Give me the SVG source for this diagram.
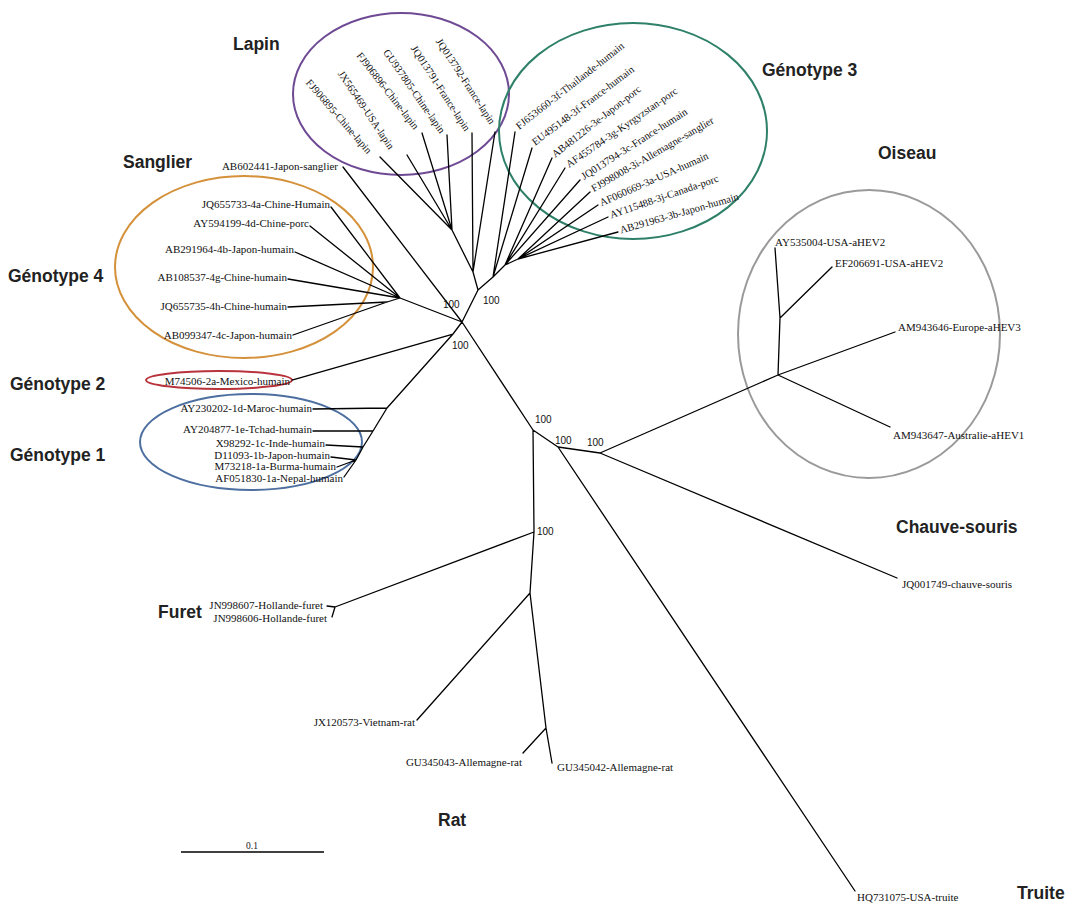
<svg xmlns="http://www.w3.org/2000/svg" width="1068" height="907" viewBox="0 0 1068 907">
<style>
.e{stroke:#000;stroke-width:1.3;fill:none;stroke-linecap:round;stroke-linejoin:round}
.l{font-family:"Liberation Serif","Times New Roman",serif;font-size:11px;fill:#111}
.r{font-family:"Liberation Serif","Times New Roman",serif;font-size:10.5px;fill:#111}
.n{text-anchor:end}
.b{font-family:"Liberation Sans",Arial,sans-serif;font-size:10px;fill:#111}
.g{font-family:"Liberation Sans",Arial,sans-serif;font-size:17.5px;font-weight:bold;fill:#222}
.c{fill:none;stroke-width:2}
</style>
<rect width="1068" height="907" fill="#fff"/>
<g id="clusters">
<ellipse id="ell-lapin" class="c" cx="401" cy="94" rx="108" ry="81" stroke="#6f4a94"/>
<ellipse id="ell-g3" class="c" cx="633" cy="131" rx="134" ry="108" stroke="#2e8068"/>
<ellipse id="ell-g4" class="c" cx="244" cy="267" rx="129" ry="91" stroke="#d4913a"/>
<ellipse id="ell-g2" class="c" cx="219" cy="380" rx="73" ry="9" stroke="#b8333b"/>
<ellipse id="ell-g1" class="c" cx="251" cy="442" rx="111" ry="48" stroke="#4d6fa0"/>
<ellipse id="ell-oiseau" class="c" cx="869" cy="334" rx="131" ry="144" stroke="#9a9a9a"/>
</g>
<g id="connectors">
<path class="e" d="M462,322L478,290 M462,322L343,167 M462,322L400,298 M462,322L453,334 M462,322L533,430
M478,290L473,272 M478,290L493,277
M473,272L452,230 M473,272L472,133 M473,272L495,132
M452,230L380,157 M452,230L407,155 M452,230L422,133 M452,230L447,135
M493,277L515,132 M493,277L532,148 M493,277L505,265
M505,265L552,158 M505,265L565,168 M505,265L580,180 M505,265L518,259
M518,259L590,192 M518,259L598,205 M518,259L608,217 M518,259L618,232
M400,298L331,207 M400,298L310,226 M400,298L295,252 M400,298L288,279 M400,298L387,302
M387,302L288,307 M387,302L293,335
M453,334L292,380 M453,334L387,408
M387,408L313,409 M387,408L373,431
M373,431L313,431 M373,431L363,447
M363,447L326,445 M363,447L356,460
M356,460L331,457 M356,460L337,467 M356,460L344,477
M533,430L558,447 M533,430L534,532
M558,447L600,453 M558,447L855,891
M600,453L897,578 M600,453L778,375
M778,375L780,318 M778,375L895,332 M778,375L890,427
M780,318L775,248 M780,318L832,267
M534,532L335,607 M534,532L530,593
M335,607L327,606 M335,607L332,617
M530,593L417,720 M530,593L546,728
M546,728L523,753 M546,728L552,763"/>
</g>
<g id="lapin-leaves">
<g id="FJ906895"><text class="r n" x="370" y="152" dy=".35em" transform="rotate(49 370 152)">FJ906895-Chine-lapin</text></g>
<g id="JX565469"><text class="r n" x="392" y="148" dy=".35em" transform="rotate(56 392 148)">JX565469-USA-lapin</text></g>
<g id="FJ906896"><text class="r n" x="417" y="128" dy=".35em" transform="rotate(52 417 128)">FJ906896-Chine-lapin</text></g>
<g id="GU937805"><text class="r n" x="443" y="132" dy=".35em" transform="rotate(55 443 132)">GU937805-Chine-lapin</text></g>
<g id="JQ013791"><text class="r n" x="468" y="130" dy=".35em" transform="rotate(57 468 130)">JQ013791-France-lapin</text></g>
<g id="JQ013792"><text class="r n" x="493" y="123" dy=".35em" transform="rotate(57 493 123)">JQ013792-France-lapin</text></g>
</g>
<g id="g3-leaves">
<g id="FJ653660"><text class="r" x="517" y="127" dy=".35em" transform="rotate(-38 517 127)">FJ653660-3f-Thailande-humain</text></g>
<g id="EU495148"><text class="r" x="533" y="143" dy=".35em" transform="rotate(-37 533 143)">EU495148-3f-France-humain</text></g>
<g id="AB481226"><text class="r" x="553" y="155" dy=".35em" transform="rotate(-38 553 155)">AB481226-3e-Japon-porc</text></g>
<g id="AF455784"><text class="r" x="567" y="165" dy=".35em" transform="rotate(-34.6 567 165)">AF455784-3g-Kyrgyzstan-porc</text></g>
<g id="JQ013794"><text class="r" x="582" y="177" dy=".35em" transform="rotate(-32.5 582 177)">JQ013794-3c-France-humain</text></g>
<g id="FJ998008"><text class="r" x="592" y="189" dy=".35em" transform="rotate(-30 592 189)">FJ998008-3i-Allemagne-sanglier</text></g>
<g id="AF060669"><text class="r" x="600" y="203" dy=".35em" transform="rotate(-24 600 203)">AF060669-3a-USA-humain</text></g>
<g id="AY115488"><text class="r" x="610" y="215" dy=".35em" transform="rotate(-19 610 215)">AY115488-3j-Canada-porc</text></g>
<g id="AB291963"><text class="r" x="620" y="230" dy=".35em" transform="rotate(-16 620 230)">AB291963-3b-Japon-humain</text></g>
</g>
<g id="left-leaves">
<g id="AB602441"><text class="l n" x="338" y="166" dy=".35em">AB602441-Japon-sanglier</text></g>
<g id="JQ655733"><text class="l n" x="330" y="204" dy=".35em">JQ655733-4a-Chine-Humain</text></g>
<g id="AY594199"><text class="l n" x="309" y="223" dy=".35em">AY594199-4d-Chine-porc</text></g>
<g id="AB291964"><text class="l n" x="294" y="249" dy=".35em">AB291964-4b-Japon-humain</text></g>
<g id="AB108537"><text class="l n" x="287" y="277" dy=".35em">AB108537-4g-Chine-humain</text></g>
<g id="JQ655735"><text class="l n" x="287" y="306" dy=".35em">JQ655735-4h-Chine-humain</text></g>
<g id="AB099347"><text class="l n" x="292" y="335" dy=".35em">AB099347-4c-Japon-humain</text></g>
<g id="M74506"><text class="l n" x="290" y="381" dy=".35em">M74506-2a-Mexico-humain</text></g>
<g id="AY230202"><text class="l n" x="312" y="408" dy=".35em">AY230202-1d-Maroc-humain</text></g>
<g id="AY204877"><text class="l n" x="312" y="429" dy=".35em">AY204877-1e-Tchad-humain</text></g>
<g id="X98292"><text class="l n" x="325" y="443" dy=".35em">X98292-1c-Inde-humain</text></g>
<g id="D11093"><text class="l n" x="330" y="455" dy=".35em">D11093-1b-Japon-humain</text></g>
<g id="M73218"><text class="l n" x="336" y="466" dy=".35em">M73218-1a-Burma-humain</text></g>
<g id="AF051830"><text class="l n" x="343" y="478" dy=".35em">AF051830-1a-Nepal-humain</text></g>
<g id="JN998607"><text class="l n" x="323" y="605" dy=".35em">JN998607-Hollande-furet</text></g>
<g id="JN998606"><text class="l n" x="327" y="618" dy=".35em">JN998606-Hollande-furet</text></g>
<g id="JX120573"><text class="l n" x="415" y="722" dy=".35em">JX120573-Vietnam-rat</text></g>
<g id="GU345043"><text class="l n" x="522" y="762" dy=".35em">GU345043-Allemagne-rat</text></g>
</g>
<g id="right-leaves">
<g id="GU345042"><text class="l" x="557" y="767" dy=".35em">GU345042-Allemagne-rat</text></g>
<g id="HQ731075"><text class="l" x="857" y="897" dy=".35em">HQ731075-USA-truite</text></g>
<g id="JQ001749"><text class="l" x="902" y="584" dy=".35em">JQ001749-chauve-souris</text></g>
<g id="AY535004"><text class="l" x="775" y="242" dy=".35em">AY535004-USA-aHEV2</text></g>
<g id="EF206691"><text class="l" x="835" y="263" dy=".35em">EF206691-USA-aHEV2</text></g>
<g id="AM943646"><text class="l" x="898" y="327" dy=".35em">AM943646-Europe-aHEV3</text></g>
<g id="AM943647"><text class="l" x="893" y="435" dy=".35em">AM943647-Australie-aHEV1</text></g>
</g>
<g id="bootstrap">
<text class="b" x="443" y="304" dy=".35em">100</text>
<text class="b" x="483" y="300" dy=".35em">100</text>
<text class="b" x="452" y="345" dy=".35em">100</text>
<text class="b" x="535" y="419" dy=".35em">100</text>
<text class="b" x="555" y="440" dy=".35em">100</text>
<text class="b" x="587" y="442" dy=".35em">100</text>
<text class="b" x="537" y="531" dy=".35em">100</text>
</g>
<g id="group-labels">
<text class="g" x="233" y="50">Lapin</text>
<text class="g" x="762" y="76">Génotype 3</text>
<text class="g" x="123" y="168">Sanglier</text>
<text class="g" x="878" y="159">Oiseau</text>
<text class="g" x="8" y="282">Génotype 4</text>
<text class="g" x="10" y="390">Génotype 2</text>
<text class="g" x="10" y="461">Génotype 1</text>
<text class="g" x="896" y="533">Chauve-souris</text>
<text class="g" x="158" y="618">Furet</text>
<text class="g" x="438" y="826">Rat</text>
<text class="g" x="1017" y="899">Truite</text>
</g>
<g id="scale-bar">
<line x1="181" y1="852" x2="324" y2="852" stroke="#000" stroke-width="1.3"/>
<text x="252" y="849" text-anchor="middle" style="font-family:'Liberation Serif',serif;font-size:9.5px;fill:#111">0.1</text>
</g>
</svg>
